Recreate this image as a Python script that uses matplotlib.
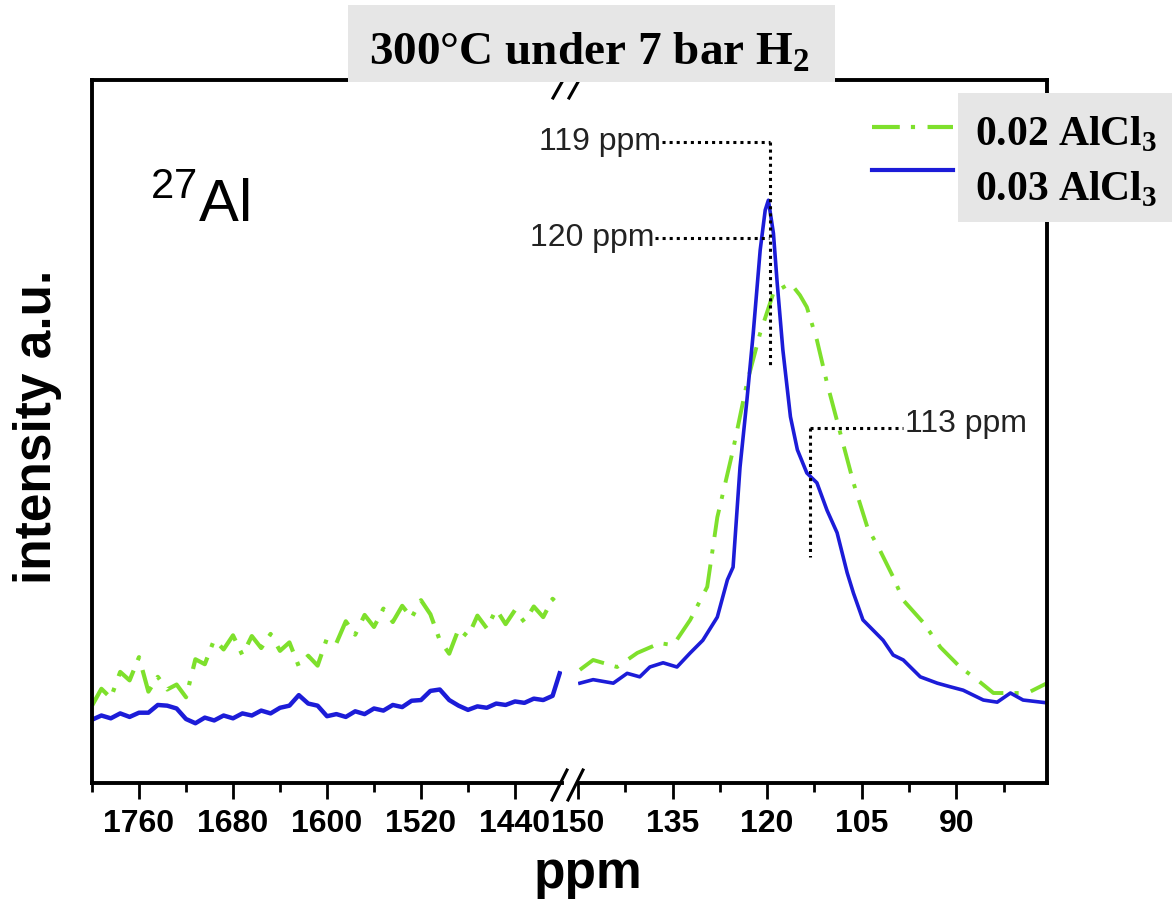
import matplotlib
matplotlib.use('Agg')
import matplotlib.pyplot as plt
from matplotlib.lines import Line2D
from matplotlib.patches import Rectangle

plt.rcParams['font.family'] = ['Liberation Sans', 'DejaVu Sans']
plt.rcParams['mathtext.fontset'] = 'custom'
plt.rcParams['mathtext.rm'] = 'Liberation Serif'
plt.rcParams['mathtext.bf'] = 'Liberation Serif:bold'
plt.rcParams['mathtext.sf'] = 'Liberation Sans'
plt.rcParams['lines.scale_dashes'] = False

# ---- data ----
ppm_left = [1800, 1792, 1784, 1776, 1768, 1760, 1752, 1744, 1736, 1728, 1720,
            1712, 1704, 1696, 1688, 1680, 1672, 1664, 1656, 1648, 1640, 1632,
            1624, 1616, 1608, 1600, 1592, 1584, 1576, 1568, 1560, 1552, 1544,
            1536, 1528, 1520, 1512, 1504, 1496, 1488, 1480, 1472, 1464, 1456,
            1448, 1440, 1432, 1424, 1416, 1408, 1402]
green_left = [11.0, 13.4, 12.1, 15.8, 14.6, 17.9, 13.0, 15.1, 13.3, 14.0, 12.2,
              17.6, 16.9, 20.4, 19.0, 21.0, 18.2, 20.9, 19.2, 21.2, 18.8, 20.0,
              16.6, 18.1, 16.7, 20.6, 19.9, 23.0, 21.1, 23.9, 22.2, 24.8, 22.9,
              25.2, 23.5, 26.0, 24.0, 20.3, 18.4, 21.9, 20.8, 23.8, 22.0, 24.7,
              22.6, 24.6, 22.9, 25.1, 23.6, 26.2, 25.2]
blue_left = [9.0, 9.6, 9.2, 9.9, 9.4, 10.0, 10.0, 11.1, 11.0, 10.6, 9.1,
             8.5, 9.3, 8.9, 9.6, 9.2, 9.9, 9.6, 10.3, 9.9, 10.7, 11.0,
             12.5, 11.3, 11.0, 9.5, 9.8, 9.4, 10.2, 9.8, 10.6, 10.3, 11.1,
             10.8, 11.7, 11.8, 13.1, 13.3, 11.8, 11.0, 10.4, 10.9, 10.7, 11.3,
             11.1, 11.6, 11.4, 12.0, 11.8, 12.4, 15.6]

ppm_blue_right = [149.7, 147.6, 144.4, 142.2, 140.2, 138.6, 136.5, 134.3, 132.2,
                  130.2, 127.9, 126.3, 125.4, 124.3, 123.2, 122.2, 121.1, 120.3,
                  119.8, 119.0, 118.4, 117.5, 116.3, 115.2, 113.7, 112.1, 110.5,
                  108.9, 107.3, 106.3, 104.8, 101.6, 100.0, 98.4, 95.7, 93.0,
                  91.0, 88.9, 85.7, 83.5, 81.4, 79.4, 75.6]
blue_right = [14.2, 14.7, 14.2, 15.6, 15.1, 16.5, 17.1, 16.5, 18.5,
              20.3, 23.6, 28.9, 30.7, 44.9, 54.5, 64.0, 75.8, 81.5,
              82.9, 78.2, 71.1, 61.6, 52.1, 47.4, 44.1, 42.7, 38.8,
              35.6, 29.9, 27.0, 23.2, 20.3, 18.2, 17.5, 15.1, 14.2,
              13.7, 13.2, 11.8, 11.5, 12.8, 11.8, 11.4]

ppm_green_right = [149.7, 147.6, 143.8, 140.6, 137.0, 134.9, 132.2, 129.5, 127.9,
                   125.4, 123.2, 121.1, 119.0, 116.3, 114.8, 113.7, 112.1, 110.5,
                   108.4, 106.3, 104.1, 102.1, 100.0, 98.4, 95.2, 92.5, 89.4,
                   86.7, 84.1, 81.4, 78.7, 75.6]
green_right = [16.1, 17.5, 16.5, 18.5, 19.9, 19.6, 23.2, 27.9, 37.8,
               47.4, 56.9, 64.0, 69.7, 71.1, 69.4, 67.7, 63.0, 56.9,
               49.8, 42.7, 36.4, 33.1, 29.3, 26.0, 22.8, 19.3, 16.5,
               14.7, 12.8, 12.8, 12.8, 14.2]

ticks_left = [1760, 1680, 1600, 1520, 1440]
minor_left = [1800, 1720, 1640, 1560, 1480]
ticks_right = [150, 135, 120, 105, 90]
minor_right = [142.5, 127.5, 112.5, 97.5, 82.5]

labels = ['0.02 AlCl$_\\mathbf{3}$', '0.03 AlCl$_\\mathbf{3}$']
green = '#7ee02c'
blue = '#1c1cd8'
dashdot = (0, (20, 8, 3, 9))

W, H = 1172, 913


def fx(px):
    return px / W


def fy(py):
    return 1 - py / H


fig = plt.figure(figsize=(W / 100, H / 100), dpi=100)
ax_l = fig.add_axes([fx(92), fy(783), fx(562) - fx(92), fy(80) - fy(783)])
ax_r = fig.add_axes([fx(578), fy(783), fx(1047) - fx(578), fy(80) - fy(783)])

ax_l.plot(ppm_left, green_left, color=green, lw=3.0, ls=dashdot)
ax_l.plot(ppm_left, blue_left, color=blue, lw=3.2)
ax_r.plot(ppm_green_right, green_right, color=green, lw=2.8, ls=dashdot)
ax_r.plot(ppm_blue_right, blue_right, color=blue, lw=2.6)

ax_l.set_xlim(1800, 1400)
ax_r.set_xlim(150, 75.6)
for ax, maj, mnr in [(ax_l, ticks_left, minor_left), (ax_r, ticks_right, minor_right)]:
    ax.set_ylim(0, 100)
    ax.set_yticks([])
    ax.set_xticks(maj)
    ax.set_xticks(mnr, minor=True)
    ax.tick_params(axis='x', which='major', direction='out', length=11.5, width=2,
                   pad=7, labelsize=23)
    ax.tick_params(axis='x', which='minor', direction='out', length=6.5, width=2)
    for lab in ax.get_xticklabels():
        lab.set_fontweight('bold')
    for sp in ax.spines.values():
        sp.set_linewidth(2.8)
ax_l.spines['right'].set_visible(False)
ax_r.spines['left'].set_visible(False)

# peak annotations
dots = dict(color='black', lw=2.2, ls=(0, (2.2, 2.9)), clip_on=False)
ax_r.plot([136.7, 119.5], [91.2, 91.2], **dots)
ax_r.plot([119.5, 119.5], [91.2, 59.5], **dots)
ax_r.plot([137.8, 119.7], [77.5, 77.5], **dots)
ax_r.plot([113.2, 98.4], [50.5, 50.5], **dots)
ax_r.plot([113.2, 113.2], [50.5, 32.1], **dots)
ax_r.text(136.9, 91.2, '119 ppm', ha='right', va='center', fontsize=23, color='#222222')
ax_r.text(137.9, 77.5, '120 ppm', ha='right', va='center', fontsize=23, color='#222222')
ax_r.text(98.2, 51.0, '113 ppm', ha='left', va='center', fontsize=23, color='#222222')

ax_l.text(0.123, 0.798, r'$^{\mathsf{27}}$Al', transform=ax_l.transAxes,
          fontsize=43, ha='left', va='baseline')

fig.text(fx(38), fy(427), 'intensity a.u.', rotation=90, ha='center', va='center',
         fontsize=37, fontweight='bold')
fig.text(fx(588), fy(888), 'ppm', ha='center', va='baseline', fontsize=37,
         fontweight='bold')

# axis break marks
for x0 in (552, 568):
    fig.add_artist(Line2D([fx(x0), fx(x0 + 15)], [fy(800), fy(770)], color='black',
                          lw=2.2, transform=fig.transFigure))
    fig.add_artist(Line2D([fx(x0 + 1), fx(x0 + 10)], [fy(98), fy(82)], color='black',
                          lw=2.2, transform=fig.transFigure))

# title box
fig.add_artist(Rectangle((fx(348), fy(82)), fx(835) - fx(348), fy(5) - fy(82),
                         transform=fig.transFigure, facecolor='#e6e6e6',
                         edgecolor='none', zorder=3))
fig.text(fx(589), fy(65), r'300°C under 7 bar H$_\mathbf{2}$', ha='center', va='baseline',
         fontsize=34, fontweight='bold', family='Liberation Serif', zorder=4)

# legend
fig.add_artist(Rectangle((fx(958), fy(222)), fx(1172) - fx(958), fy(93) - fy(222),
                         transform=fig.transFigure, facecolor='#e6e6e6',
                         edgecolor='none', zorder=3))
fig.add_artist(Line2D([fx(872), fx(953)], [fy(127), fy(127)], color=green, lw=3,
                      ls=dashdot, transform=fig.transFigure))
fig.add_artist(Line2D([fx(872), fx(953)], [fy(170), fy(170)], color=blue, lw=3,
                      transform=fig.transFigure))
fig.text(fx(975), fy(145), labels[0], ha='left', va='baseline', fontsize=30,
         fontweight='bold', family='Liberation Serif', zorder=4)
fig.text(fx(975), fy(200), labels[1], ha='left', va='baseline', fontsize=30,
         fontweight='bold', family='Liberation Serif', zorder=4)

fig.savefig('out.png', dpi=100)
